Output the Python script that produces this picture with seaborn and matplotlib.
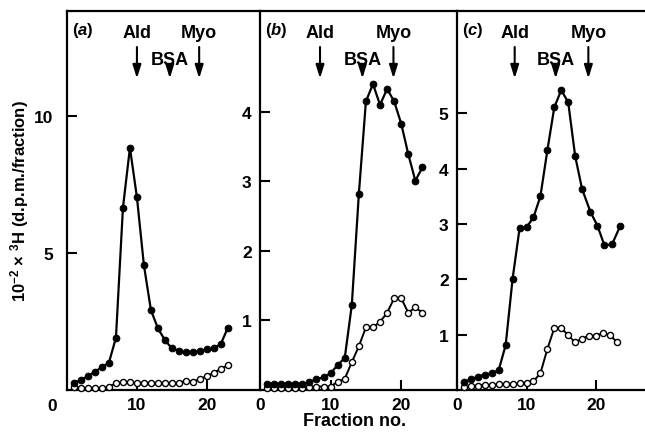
import matplotlib
matplotlib.use("Agg")
import matplotlib.pyplot as plt
import seaborn as sns
import pandas as pd

# fraction numbers
fractions = list(range(1, 24))
fractions_c_filled = [1, 2, 3, 4, 5, 6, 7, 8, 9, 10, 11, 12, 13, 14, 15, 16, 17, 18,
                      19.2, 20.2, 21.2, 22.3, 23.5]

# panel (a)
a_filled = [0.27, 0.36, 0.51, 0.67, 0.83, 1.0, 1.91, 6.65, 8.84, 7.03, 4.55, 2.92,
            2.25, 1.82, 1.52, 1.43, 1.37, 1.40, 1.43, 1.48, 1.52, 1.68, 2.27]
a_open = [0.10, 0.09, 0.06, 0.06, 0.06, 0.12, 0.24, 0.28, 0.28, 0.24, 0.24, 0.24,
          0.24, 0.24, 0.24, 0.26, 0.34, 0.31, 0.39, 0.51, 0.63, 0.77, 0.91]

# panel (b)
b_filled = [0.09, 0.09, 0.09, 0.09, 0.09, 0.09, 0.11, 0.16, 0.18, 0.24, 0.36, 0.46,
            1.22, 2.82, 4.15, 4.40, 4.10, 4.33, 4.15, 3.83, 3.39, 3.01, 3.20]
b_open = [0.03, 0.03, 0.03, 0.03, 0.03, 0.03, 0.04, 0.05, 0.05, 0.05, 0.12, 0.16,
          0.40, 0.63, 0.90, 0.90, 0.98, 1.11, 1.32, 1.32, 1.11, 1.19, 1.11]

# panel (c)
c_filled = [0.15, 0.19, 0.24, 0.28, 0.30, 0.36, 0.81, 2.01, 2.92, 2.94, 3.12, 3.50,
            4.33, 5.11, 5.42, 5.20, 4.23, 3.63, 3.22, 2.97, 2.62, 2.63, 2.97]
c_open = [0.05, 0.07, 0.08, 0.09, 0.09, 0.10, 0.10, 0.10, 0.12, 0.13, 0.16, 0.30,
          0.74, 1.12, 1.12, 0.99, 0.86, 0.93, 0.98, 0.98, 1.03, 0.99, 0.87]

# marker protein positions (fraction no.)
marker_names = ["Ald", "BSA", "Myo"]
a_markers = [10.0, 14.7, 18.9]
b_markers = [8.5, 14.5, 18.9]
c_markers = [8.3, 14.2, 18.9]

sns.set_style("ticks")
plt.rcParams["font.family"] = ["Liberation Sans", "DejaVu Sans"]
plt.rcParams["font.weight"] = "bold"
plt.rcParams["mathtext.fontset"] = "custom"
plt.rcParams["mathtext.rm"] = "Liberation Sans:bold"
plt.rcParams["mathtext.it"] = "Liberation Sans:italic"
plt.rcParams["mathtext.bf"] = "Liberation Sans:bold"

fig = plt.figure(figsize=(6.45, 4.35), dpi=100)
bottom, height = 44 / 435, 379 / 435
ax_a = fig.add_axes([67 / 645, bottom, 193 / 645, height])
ax_b = fig.add_axes([260 / 645, bottom, 197 / 645, height])
ax_c = fig.add_axes([457 / 645, bottom, 188 / 645, height])

panels = [
    (ax_a, "a", fractions, a_filled, a_open, a_markers, 27.6, 13.83, [5, 10], [10, 20], 10),
    (ax_b, "b", fractions, b_filled, b_open, b_markers, 27.9, 5.45, [1, 2, 3, 4], [0, 10, 20], 6),
    (ax_c, "c", fractions_c_filled, c_filled, c_open, c_markers, 27.05, 6.85, [1, 2, 3, 4, 5], [0, 10, 20], 6),
]

for ax, tag, xf, filled, opened, mpos, xmax, ymax, yt, xt, ypad in panels:
    df_open = pd.DataFrame({"fraction": fractions, "value": opened})
    df_filled = pd.DataFrame({"fraction": xf, "value": filled})
    sns.lineplot(data=df_open, x="fraction", y="value", ax=ax, color="k", lw=1.4,
                 marker="o", markersize=4.4, markerfacecolor="white",
                 markeredgecolor="k", markeredgewidth=1.0, clip_on=False, zorder=3)
    sns.lineplot(data=df_filled, x="fraction", y="value", ax=ax, color="k", lw=1.6,
                 marker="o", markersize=4.8, markerfacecolor="k",
                 markeredgecolor="k", clip_on=False, zorder=4)

    ax.set_xlim(0, xmax)
    ax.set_ylim(0, ymax)
    ax.set_xticks(xt)
    ax.set_yticks(yt)
    ax.set_xlabel("")
    ax.set_ylabel("")
    ax.tick_params(direction="in", length=7, width=1.5, color="k", labelsize=12.5,
                   labelcolor="k", pad=ypad)
    ax.tick_params(axis="x", pad=5)
    for side in ["top", "left", "bottom"]:
        ax.spines[side].set_linewidth(1.6)
        ax.spines[side].set_color("k")
    ax.spines["right"].set_visible(False)

    # panel tag
    ax.text(0.026, 0.95, r"($\mathit{" + tag + "}$)", transform=ax.transAxes,
            fontsize=12, ha="left", va="center", color="k")

    # marker arrows
    trans = ax.get_xaxis_transform()
    for name, xm in zip(marker_names, mpos):
        if name == "BSA":
            ty, tail = 0.873, 0.855
        else:
            ty, tail = 0.942, 0.905
        ax.annotate("", xy=(xm, 0.822), xytext=(xm, tail), xycoords=trans,
                    textcoords=trans,
                    arrowprops=dict(arrowstyle="-|>,head_length=0.8,head_width=0.25",
                                    color="k", lw=1.5, shrinkA=0, shrinkB=0))
        ax.text(xm, ty, name, transform=trans, ha="center", va="center",
                fontsize=13, color="k")

# shared origin label on panel (a)
ax_a.text(-0.078, -0.04, "0", transform=ax_a.transAxes, ha="center", va="center",
          fontsize=12.5, color="k")

fig.text(0.031, 0.537, r"10$^{\mathregular{-2}}$ × $^{\mathregular{3}}$H (d.p.m./fraction)",
         rotation=90, ha="center", va="center", fontsize=12, color="k")
fig.text(0.55, 0.032, "Fraction no.", ha="center", va="center", fontsize=13, color="k")

fig.savefig("out.png", dpi=100)
